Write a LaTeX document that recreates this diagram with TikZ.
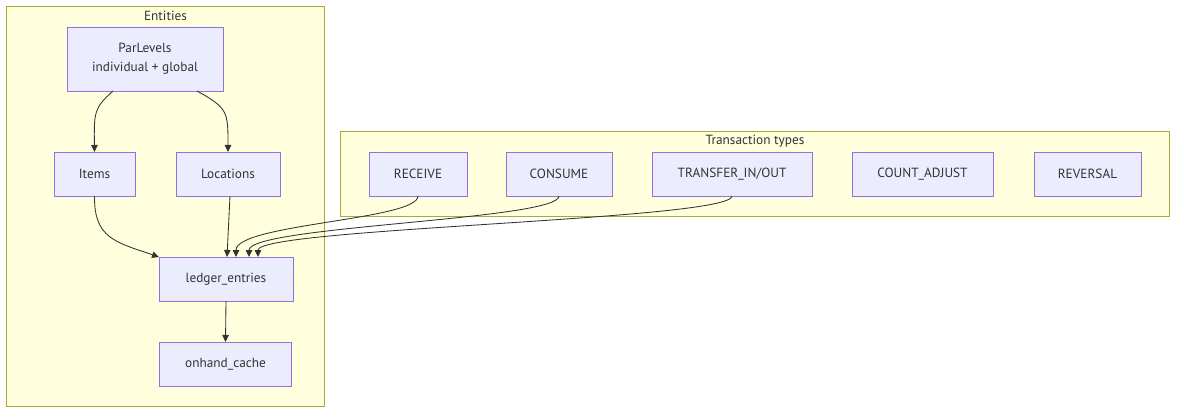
\documentclass[tikz,border=0pt]{standalone}
\usepackage{fontspec}
\setmainfont{PT Sans}
\usetikzlibrary{arrows.meta}
\definecolor{ink}{HTML}{333333}
\definecolor{boxfill}{HTML}{ECECFF}
\definecolor{boxline}{HTML}{9370DB}
\definecolor{grpfill}{HTML}{FFFFDE}
\definecolor{grpline}{HTML}{AAAA33}

\begin{document}
\begin{tikzpicture}[x=1pt,y=-1pt,
  every node/.style={inner sep=0pt,outer sep=0pt,text=ink,font=\fontsize{13.3}{17}\selectfont},
  grp/.style={draw=grpline,fill=grpfill,line width=0.9pt},
  ttl/.style={anchor=center},
  ent/.style={draw=boxline,fill=boxfill,line width=0.9pt,minimum height=44pt,align=center},
  flow/.style={draw=ink,line width=0.85pt,-{Triangle[length=7pt,width=6.5pt]}}]
\useasboundingbox (0,0) rectangle (1184,417);

% ---- groups --------------------------------------------------------------
\draw[grp] (6.5,6.5) rectangle (324.5,406.5);
\node[ttl] (entT) at (165.5,16) {Entities};
\draw[grp] (340.5,131.5) rectangle (1169.5,216.5);
\node[ttl] (txT) at (755,141) {Transaction types};

% ---- entities ------------------------------------------------------------
\node[ent,minimum width=156pt,minimum height=64pt] (par) at (145,59)
  {ParLevels\\[2pt]individual + global};
\node[ent,minimum width=81pt] (items) at (94.5,174) {Items};
\node[ent,minimum width=104pt] (locs) at (228,174) {Locations};
\node[ent,minimum width=134pt] (ledger) at (226,279) {ledger\_entries};
\node[ent,minimum width=132pt] (onhand) at (225.5,364) {onhand\_cache};

% ---- transaction types ---------------------------------------------------
\foreach \x/\w/\n/\t in {418/98/rcv/RECEIVE, 559/106/cons/CONSUME,
                         732/160/xfer/{TRANSFER\_IN/OUT}, 922.5/141/cadj/COUNT\_ADJUST,
                         1087.5/107/rev/REVERSAL} {
  \node[ent,minimum width=\w pt] (\n) at (\x,174) {\t};
}

% ---- flow ----------------------------------------------------------------
\draw[flow] ([xshift=-32pt]par.south) .. controls (94,108) and (94,112) .. (items.north);
\draw[flow] ([xshift=52pt]par.south) .. controls (228,108) and (228,112) .. (locs.north);
\draw[flow] (items.south) .. controls (94,238) and (115,242) .. (ledger.north west);
\draw[flow] ([xshift=2pt]locs.south) -- ([xshift=1pt]ledger.north);
\draw[flow] (rcv.south) .. controls (418,220) and (236,224) .. ([xshift=10pt]ledger.north);
\draw[flow] (cons.south) .. controls (559,220) and (249,226) .. ([xshift=23pt]ledger.north);
\draw[flow] (xfer.south) .. controls (732,220) and (258,228) .. ([xshift=32pt]ledger.north);
\draw[flow] (ledger.south) -- (onhand.north);
\end{tikzpicture}
\end{document}
